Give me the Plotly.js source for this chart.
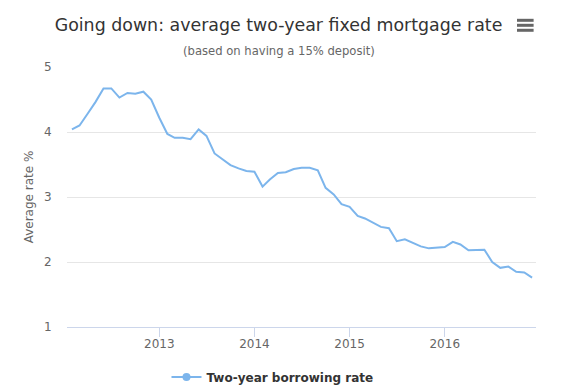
<!DOCTYPE html>
<html>
<head>
<meta charset="utf-8">
<script src="https://cdn.plot.ly/plotly-3.0.1.min.js"></script>
<style>html,body{margin:0;padding:0;background:#fff;}#chart{width:563px;height:388px;}</style>
</head>
<body>
<div id="chart"></div>
<script>
// Monthly dates, Feb 2012 – Dec 2016
const startYear = 2012, startMonth = 2, nMonths = 59;
const dates = [];
for (let i = 0; i < nMonths; i++) {
  const m = startMonth - 1 + i;
  const y = startYear + Math.floor(m / 12);
  const mm = (m % 12) + 1;
  dates.push(y + '-' + String(mm).padStart(2, '0') + '-01');
}
const rate2012 = [4.04, 4.10, 4.28, 4.46, 4.67, 4.67, 4.53, 4.60, 4.59, 4.62, 4.50];
const rate2013 = [4.22, 3.97, 3.91, 3.91, 3.89, 4.04, 3.94, 3.67, 3.58, 3.49, 3.44, 3.40];
const rate2014 = [3.39, 3.16, 3.27, 3.37, 3.38, 3.43, 3.45, 3.45, 3.41, 3.14, 3.04, 2.89];
const rate2015 = [2.85, 2.71, 2.67, 2.61, 2.54, 2.52, 2.32, 2.35, 2.30, 2.24, 2.21, 2.22];
const rate2016 = [2.23, 2.31, 2.27, 2.18, 2.18, 2.19, 2.00, 1.91, 1.93, 1.85, 1.84, 1.76];
const rates = [].concat(rate2012, rate2013, rate2014, rate2015, rate2016);
const yTicks = [1, 2, 3, 4, 5];
const xTickVals = ['2013-01-01', '2014-01-01', '2015-01-01', '2016-01-01'];
const xTickText = ['2013', '2014', '2015', '2016'];
const seriesName = 'Two-year borrowing rate';
const chartTitle = 'Going down: average two-year fixed mortgage rate';
const chartSubtitle = '(based on having a 15% deposit)';
const yTitle = 'Average rate %';

const FONT = 'DejaVu Sans, Verdana, sans-serif';
const lineColor = '#7cb5ec';

const traces = [
  {
    x: dates, y: rates, type: 'scatter', mode: 'lines',
    line: {color: lineColor, width: 2},
    name: seriesName, showlegend: false, hoverinfo: 'x+y'
  },
  {
    x: [null], y: [null], type: 'scatter', mode: 'lines+markers',
    line: {color: lineColor, width: 2},
    marker: {color: lineColor, size: 8},
    name: seriesName, showlegend: true
  }
];

const menuY = [1.1796, 1.1604, 1.1412];
const shapes = menuY.map(v => ({
  type: 'line', xref: 'paper', yref: 'paper',
  x0: 0.9595, x1: 0.9949, y0: v, y1: v,
  line: {color: '#666666', width: 3}
}));

const layout = {
  width: 563, height: 388,
  margin: {l: 67, r: 27, t: 67, b: 61, pad: 0},
  paper_bgcolor: '#ffffff', plot_bgcolor: '#ffffff',
  font: {family: FONT, color: '#666666', size: 12},
  title: {
    text: chartTitle,
    font: {family: FONT, size: 17.4, color: '#333333'},
    xref: 'container', yref: 'container',
    x: 0.4947, xanchor: 'center', y: 0.936, yanchor: 'middle'
  },
  annotations: [{
    text: chartSubtitle,
    xref: 'paper', yref: 'paper',
    x: (279 - 66.7) / 469, xanchor: 'center',
    y: (327 - 51) / 260, yanchor: 'middle',
    showarrow: false,
    font: {family: FONT, size: 11.6, color: '#666666'}
  }],
  shapes: shapes,
  xaxis: {
    type: 'date',
    range: ['2012-01-13', '2016-12-16'],
    tickvals: xTickVals, ticktext: xTickText,
    ticks: 'outside', ticklen: 9, tickcolor: '#ccd6eb', tickwidth: 1,
    ticklabelstandoff: -3,
    showline: true, linecolor: '#ccd6eb', linewidth: 1,
    showgrid: false, zeroline: false,
    tickfont: {family: FONT, size: 12, color: '#666666'},
    fixedrange: true
  },
  yaxis: {
    range: [1, 5],
    tickvals: yTicks,
    ticks: 'outside', ticklen: 12, tickcolor: 'rgba(0,0,0,0)',
    showline: false, showgrid: true, gridcolor: '#e6e6e6', gridwidth: 1,
    zeroline: false,
    tickfont: {family: FONT, size: 12, color: '#666666'},
    title: {text: yTitle, font: {family: FONT, size: 12, color: '#666666'}, standoff: 7},
    fixedrange: true
  },
  showlegend: true,
  legend: {
    orientation: 'h',
    xref: 'container', yref: 'container',
    x: 0.484, xanchor: 'center',
    y: 1 - 377 / 388, yanchor: 'middle',
    font: {family: FONT, size: 12, color: '#333333', weight: 'bold'},
    bgcolor: 'rgba(0,0,0,0)'
  }
};

Plotly.newPlot('chart', traces, layout, {displayModeBar: false});
</script>
</body>
</html>
